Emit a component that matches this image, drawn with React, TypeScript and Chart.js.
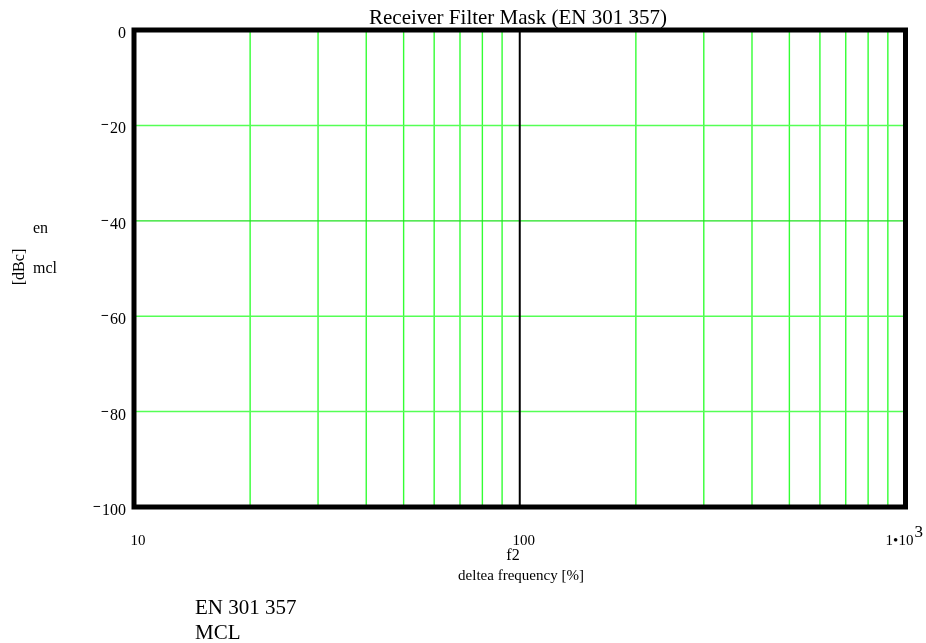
import React, { useEffect, useRef } from "react";
import { Chart, registerables } from "chart.js";

Chart.register(...registerables);

// Axis ranges
const xMin = 10;
const xMax = 1000;
const yMin = -100;
const yMax = 0;

// Grid positions (log decades on x, 20 dB steps on y)
const xGridValues = [20, 30, 40, 50, 60, 70, 80, 90, 200, 300, 400, 500, 600, 700, 800, 900];
const yGridValues = [-20, -60, -80];

// Tick labels
const xTickValues = [10, 100, 1000];
const xTickLabels = ["10", "100", "1•10"];
const xTickExponents = ["", "", "3"];
const yTickValues = [0, -20, -40, -60, -80, -100];

// Traces
const f2Marker = [100, 100];
const f2MarkerLevels = [0, -100];
const mclFreq = [10, 1000];
const mclLevel = [-40, -40];

const SERIF = "'Liberation Serif', 'Times New Roman', serif";

const gridPlugin = {
  id: "mathcadGrid",
  beforeDatasetsDraw(chart: any) {
    const { ctx, chartArea } = chart;
    const xs = chart.scales.x;
    const ys = chart.scales.y;
    ctx.save();
    ctx.lineWidth = 1.4;
    ctx.strokeStyle = "#33ff33";
    xGridValues.forEach((v) => {
      const px = xs.getPixelForValue(v);
      ctx.beginPath();
      ctx.moveTo(px, chartArea.top);
      ctx.lineTo(px, chartArea.bottom);
      ctx.stroke();
    });
    ctx.strokeStyle = "#55ff55";
    ctx.lineWidth = 1.5;
    yGridValues.forEach((v) => {
      const py = ys.getPixelForValue(v);
      ctx.beginPath();
      ctx.moveTo(chartArea.left, py);
      ctx.lineTo(chartArea.right, py);
      ctx.stroke();
    });
    ctx.restore();
  },
};

const framePlugin = {
  id: "mathcadFrame",
  afterDraw(chart: any) {
    const { ctx, chartArea } = chart;
    const xs = chart.scales.x;
    const ys = chart.scales.y;
    ctx.save();

    // thick plot frame
    ctx.strokeStyle = "#000";
    ctx.lineWidth = 5;
    ctx.strokeRect(
      chartArea.left,
      chartArea.top,
      chartArea.right - chartArea.left,
      chartArea.bottom - chartArea.top
    );

    ctx.fillStyle = "#000";

    // title
    ctx.font = `21px ${SERIF}`;
    ctx.textAlign = "center";
    ctx.textBaseline = "alphabetic";
    ctx.fillText("Receiver Filter Mask (EN 301 357)", 518, 24);

    // y tick labels with raised minus
    ctx.textAlign = "right";
    yTickValues.forEach((v) => {
      const py = ys.getPixelForValue(v);
      const digits = String(Math.abs(v));
      ctx.font = `16px ${SERIF}`;
      const w = ctx.measureText(digits).width;
      ctx.fillText(digits, 126, py + 8);
      if (v < 0) {
        ctx.font = `bold 14px ${SERIF}`;
        ctx.fillText("\u2212", 126 - w - 1, py + 4);
      }
    });

    // x tick labels
    xTickValues.forEach((v, i) => {
      const px = xs.getPixelForValue(v);
      const label = xTickLabels[i];
      const exp = xTickExponents[i];
      ctx.font = `15px ${SERIF}`;
      ctx.textAlign = "center";
      if (exp) {
        ctx.fillText(label, px - 6, 545);
        const w = ctx.measureText(label).width;
        ctx.font = `17px ${SERIF}`;
        ctx.textAlign = "left";
        ctx.fillText(exp, px - 6 + w / 2 + 1, 537);
      } else {
        ctx.fillText(label, px + 4, 545);
      }
    });

    // x axis names
    ctx.textAlign = "center";
    ctx.font = `16px ${SERIF}`;
    ctx.fillText("f2", 513, 560);
    ctx.font = `15px ${SERIF}`;
    ctx.fillText("deltea frequency [%]", 521, 580);

    // y axis names
    ctx.textAlign = "left";
    ctx.font = `16px ${SERIF}`;
    ctx.fillText("en", 33, 233);
    ctx.fillText("mcl", 33, 273);
    ctx.save();
    ctx.translate(24, 267);
    ctx.rotate(-Math.PI / 2);
    ctx.textAlign = "center";
    ctx.font = `16px ${SERIF}`;
    ctx.fillText("[dBc]", 0, 0);
    ctx.restore();

    // annotation below the plot
    ctx.textAlign = "left";
    ctx.font = `21px ${SERIF}`;
    ctx.fillText("EN 301 357", 195, 614);
    ctx.fillText("MCL", 195, 639);

    ctx.restore();
  },
};

export default function App() {
  const canvasRef = useRef<HTMLCanvasElement | null>(null);

  useEffect(() => {
    if (!canvasRef.current) return;
    const chart = new Chart(canvasRef.current, {
      type: "line",
      data: {
        datasets: [
          {
            label: "f2",
            data: f2Marker.map((x, i) => ({ x, y: f2MarkerLevels[i] })),
            borderColor: "#000",
            borderWidth: 2,
            pointRadius: 0,
            fill: false,
          },
          {
            label: "mcl",
            data: mclFreq.map((x, i) => ({ x, y: mclLevel[i] })),
            borderColor: "#1fe01f",
            borderWidth: 1.2,
            pointRadius: 0,
            fill: false,
          },
        ],
      },
      options: {
        animation: false,
        responsive: false,
        devicePixelRatio: 1,
        layout: { padding: { left: 134, right: 20.5, top: 30, bottom: 136 } },
        plugins: {
          legend: { display: false },
          tooltip: { enabled: false },
          title: { display: false },
        },
        scales: {
          x: {
            type: "logarithmic",
            min: xMin,
            max: xMax,
            border: { display: false },
            grid: { display: false, drawTicks: false, tickLength: 0 },
            ticks: { display: false },
          },
          y: {
            type: "linear",
            min: yMin,
            max: yMax,
            border: { display: false },
            grid: { display: false, drawTicks: false, tickLength: 0 },
            ticks: { display: false },
          },
        },
      },
      plugins: [gridPlugin, framePlugin],
    });
    return () => chart.destroy();
  }, []);

  return (
    <div style={{ position: "absolute", left: 0, top: 0, width: 926, height: 643, background: "#fff" }}>
      <canvas ref={canvasRef} width={926} height={643} style={{ width: 926, height: 643 }} />
    </div>
  );
}
